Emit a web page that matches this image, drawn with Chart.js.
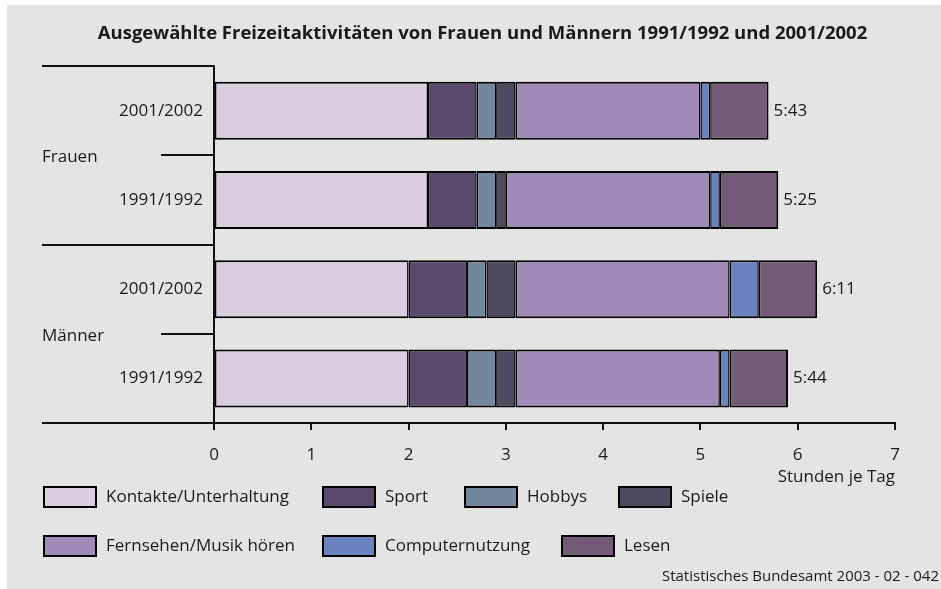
<!DOCTYPE html>
<html lang="de">
<head>
<meta charset="utf-8">
<title>Freizeitaktivitäten</title>
<script src="https://cdn.jsdelivr.net/npm/chart.js@4.4.1/dist/chart.umd.min.js"></script>
<style>
    html, body { margin: 0; padding: 0; background: #fff; }
    #wrap { width: 941px; height: 589px; }
</style>
</head>
<body>
<div id="wrap"><canvas id="chart" width="941" height="589"></canvas></div>
<script>
// Data (hours per day)
const yearLabels = ['2001/2002', '1991/1992', '2001/2002', '1991/1992'];
const groupLabels = ['Frauen', 'Männer'];
const totalLabels = ['5:43', '5:25', '6:11', '5:44'];
const activityNames = ['Kontakte/Unterhaltung', 'Sport', 'Hobbys', 'Spiele',
    'Fernsehen/Musik hören', 'Computernutzung', 'Lesen'];
const kontakte = [2.2, 2.2, 2.0, 2.0];
const sport = [0.5, 0.5, 0.6, 0.6];
const hobbys = [0.2, 0.2, 0.2, 0.3];
const spiele = [0.2, 0.1, 0.3, 0.2];
const fernsehen = [1.9, 2.1, 2.2, 2.1];
const computer = [0.1, 0.1, 0.3, 0.1];
const lesen = [0.6, 0.6, 0.6, 0.6];

const activityColors = ['#dbcde0', '#5c4a6e', '#72879d', '#4f4a60', '#a28ab8', '#6a82be', '#735b78'];
const seriesValues = [kontakte, sport, hobbys, spiele, fernsehen, computer, lesen];

const INK = '#1a1a1a';
const FONT = "'Open Sans', sans-serif";

Chart.defaults.font.family = FONT;
Chart.defaults.font.size = 17;
Chart.defaults.color = INK;

const lastIndex = seriesValues.length - 1;
const datasets = seriesValues.map((values, i) => ({
    label: activityNames[i],
    data: values,
    backgroundColor: activityColors[i],
    borderColor: '#000',
    borderWidth: { top: 2, bottom: 2, left: 1.5, right: i === lastIndex ? 2 : 1.5 },
    borderSkipped: false,
    categoryPercentage: 1,
    barPercentage: 0.65
}));

// Grey panel behind everything
const panelPlugin = {
    id: 'panel',
    beforeDraw(chart) {
        const ctx = chart.ctx;
        ctx.save();
        ctx.fillStyle = '#e4e4e4';
        ctx.fillRect(7, 5, chart.width - 7, chart.height - 5);
        ctx.restore();
    }
};

// Group brackets on the left (Frauen / Männer)
const groupPlugin = {
    id: 'groups',
    afterDraw(chart) {
        const ctx = chart.ctx;
        const y = chart.scales.y;
        const left = chart.chartArea.left;
        ctx.save();
        ctx.strokeStyle = '#111';
        ctx.lineWidth = 2;
        [-0.5, 1.5, 3.5].forEach(v => {
            const py = Math.round(y.getPixelForValue(v));
            ctx.beginPath();
            ctx.moveTo(42, py);
            ctx.lineTo(left, py);
            ctx.stroke();
        });
        ctx.font = '17px ' + FONT;
        ctx.fillStyle = INK;
        ctx.textAlign = 'left';
        ctx.textBaseline = 'middle';
        groupLabels.forEach((name, g) => {
            const py = Math.round(y.getPixelForValue(g * 2 + 0.5));
            ctx.beginPath();
            ctx.moveTo(161, py);
            ctx.lineTo(left, py);
            ctx.stroke();
            ctx.fillText(name, 42, py + 2);
        });
        ctx.restore();
    }
};

// Total time written at the end of each bar
const totalsPlugin = {
    id: 'totals',
    afterDatasetsDraw(chart) {
        const ctx = chart.ctx;
        const x = chart.scales.x;
        const y = chart.scales.y;
        ctx.save();
        ctx.font = '17px ' + FONT;
        ctx.fillStyle = INK;
        ctx.textAlign = 'left';
        ctx.textBaseline = 'middle';
        totalLabels.forEach((label, i) => {
            const sum = seriesValues.reduce((s, arr) => s + arr[i], 0);
            ctx.fillText(label, x.getPixelForValue(sum) + 5, y.getPixelForValue(i));
        });
        ctx.restore();
    }
};

// Legend in two rows plus source line
const legendSlots = [[43, 497], [322, 497], [464, 497], [618, 497], [43, 546], [322, 546], [561, 546]];
const legendPlugin = {
    id: 'customLegend',
    afterDraw(chart) {
        const ctx = chart.ctx;
        ctx.save();
        ctx.font = '17px ' + FONT;
        ctx.textAlign = 'left';
        ctx.textBaseline = 'middle';
        chart.data.datasets.forEach((ds, i) => {
            const [bx, by] = legendSlots[i];
            ctx.fillStyle = ds.backgroundColor;
            ctx.fillRect(bx, by - 11, 54, 22);
            ctx.strokeStyle = '#000';
            ctx.lineWidth = 2;
            ctx.strokeRect(bx + 1, by - 10, 52, 20);
            ctx.fillStyle = INK;
            ctx.fillText(ds.label, bx + 63, by);
        });
        ctx.font = '15px ' + FONT;
        ctx.textAlign = 'right';
        ctx.fillText('Statistisches Bundesamt 2003 - 02 - 042', 939, 577);
        ctx.restore();
    }
};

const ctx = document.getElementById('chart').getContext('2d');
const chart = new Chart(ctx, {
    type: 'bar',
    data: { labels: yearLabels, datasets: datasets },
    options: {
        indexAxis: 'y',
        responsive: false,
        animation: false,
        devicePixelRatio: 1,
        layout: { padding: { left: 70, right: 46, top: 0, bottom: 0 } },
        plugins: {
            legend: { display: false },
            tooltip: { enabled: false },
            title: {
                display: true,
                text: 'Ausgewählte Freizeitaktivitäten von Frauen und Männern 1991/1992 und 2001/2002',
                font: { size: 18.5, weight: 'bold' },
                color: INK,
                padding: { top: 23, bottom: 21 }
            }
        },
        scales: {
            x: {
                stacked: true,
                min: 0,
                max: 7,
                ticks: { stepSize: 1, padding: 15, color: INK },
                grid: { drawOnChartArea: false, drawTicks: true, tickLength: 7, color: '#111', lineWidth: 2 },
                border: { display: true, color: '#111', width: 2 },
                title: { display: true, text: 'Stunden je Tag', align: 'end', color: INK, padding: { top: 0, bottom: 102 } },
                afterFit: scale => { scale.height = 166; }
            },
            y: {
                stacked: true,
                ticks: { padding: 11, color: INK },
                grid: { display: false, drawTicks: false },
                border: { display: true, color: '#111', width: 2 },
                afterFit: scale => { scale.width = 144; }
            }
        }
    },
    plugins: [panelPlugin, groupPlugin, totalsPlugin, legendPlugin]
});
</script>
</body>
</html>
